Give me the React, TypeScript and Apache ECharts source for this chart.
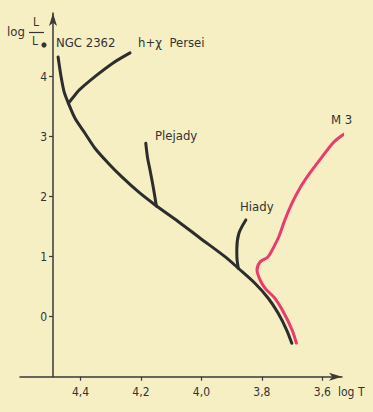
import React, { useEffect, useRef } from "react";
import * as echarts from "echarts";

// [log T, log L/Lsun]
const mainSequence: number[][] = [
  [4.474, 4.328], [4.464, 3.995], [4.454, 3.745], [4.44, 3.557], [4.418, 3.307],
  [4.385, 3.057], [4.352, 2.807], [4.308, 2.557], [4.264, 2.333], [4.209, 2.083],
  [4.153, 1.862], [4.077, 1.587], [4.005, 1.312], [3.922, 1.0], [3.878, 0.807],
  [3.823, 0.557], [3.779, 0.307], [3.746, 0.057], [3.718, -0.222], [3.701, -0.443],
];
const hChiPersei: number[][] = [
  [4.44, 3.557], [4.418, 3.695], [4.402, 3.787], [4.345, 4.028], [4.292, 4.228], [4.236, 4.395],
];
const plejady: number[][] = [
  [4.184, 2.89], [4.178, 2.645], [4.17, 2.445], [4.16, 2.178], [4.149, 1.845],
];
const hiady: number[][] = [
  [3.853, 1.612], [3.876, 1.39], [3.883, 1.112], [3.882, 0.945], [3.878, 0.807],
];
const m3: number[][] = [
  [3.516, 3.078], [3.542, 2.995], [3.565, 2.895], [3.601, 2.662], [3.641, 2.395],
  [3.674, 2.145], [3.7, 1.895], [3.724, 1.612], [3.743, 1.345], [3.76, 1.167],
  [3.78, 0.995], [3.806, 0.912], [3.816, 0.778], [3.806, 0.612], [3.79, 0.478],
  [3.758, 0.312], [3.727, 0.062], [3.7, -0.222], [3.686, -0.438],
];
const xTicks = [4.4, 4.2, 4.0, 3.8, 3.6];
const yTicks = [0, 1, 2, 3, 4];

const FONT = "'DejaVu Sans Condensed', 'Liberation Sans Narrow', 'DejaVu Sans', sans-serif";
const INK = "#333333";
const BLACK_LINE = "#2d2d2b";
const PINK = "#ea3a6e";

export default function App() {
  const ref = useRef<HTMLDivElement>(null);
  useEffect(() => {
    if (!ref.current) return;
    const chart = echarts.init(ref.current, undefined, { renderer: "svg" });
    const lineSeries = (name: string, data: number[][], color: string) => ({
      name,
      type: "line",
      data,
      smooth: 0.3,
      clip: false,
      showSymbol: false,
      symbol: "none",
      lineStyle: { color, width: 3, cap: "round", join: "round" },
      z: color === PINK ? 3 : 2,
    });
    chart.setOption({
      animation: false,
      backgroundColor: "#f6efc4",
      grid: { left: 20, right: 31, top: 13, bottom: 35.3 },
      xAxis: {
        type: "value",
        inverse: true,
        min: 3.535,
        max: 4.6,
        axisLine: {
          onZero: false,
          lineStyle: { color: "#3a3a38", width: 1.5 },
          symbol: ["none", "arrow"],
          symbolSize: [6, 13],
        },
        axisTick: { customValues: xTicks, length: 4, lineStyle: { color: "#3a3a38", width: 1.2 } },
        axisLabel: {
          customValues: xTicks,
          formatter: (v: number) => v.toFixed(1).replace(".", ","),
          color: INK,
          fontFamily: FONT,
          fontSize: 12,
          margin: 9,
        },
        splitLine: { show: false },
      },
      yAxis: {
        type: "value",
        min: -1,
        max: 5.06,
        offset: -33,
        axisLine: {
          onZero: false,
          lineStyle: { color: "#3a3a38", width: 1.5 },
          symbol: ["none", "arrow"],
          symbolSize: [6, 13],
        },
        axisTick: { customValues: yTicks, length: 4, lineStyle: { color: "#3a3a38", width: 1.2 } },
        axisLabel: {
          customValues: yTicks,
          color: INK,
          fontFamily: FONT,
          fontSize: 12,
          margin: 6,
        },
        splitLine: { show: false },
      },
      graphic: [
        { type: "text", x: 7, y: 25, style: { text: "log", fill: INK, font: `13px ${FONT}` } },
        { type: "text", x: 33, y: 16, style: { text: "L", fill: INK, font: `12px ${FONT}` } },
        { type: "line", shape: { x1: 29, y1: 32.5, x2: 44, y2: 32.5 }, style: { stroke: INK, lineWidth: 1.2 } },
        { type: "text", x: 32, y: 35, style: { text: "L", fill: INK, font: `12px ${FONT}` } },
        { type: "circle", shape: { cx: 44, cy: 45, r: 2.6 }, style: { fill: INK } },
        { type: "text", x: 56, y: 36, style: { text: "NGC 2362", fill: INK, font: `13px ${FONT}` } },
        { type: "text", x: 138, y: 36, style: { text: "h+χ  Persei", fill: INK, font: `13px ${FONT}` } },
        { type: "text", x: 155, y: 129, style: { text: "Plejady", fill: INK, font: `13px ${FONT}` } },
        { type: "text", x: 240, y: 200, style: { text: "Hiady", fill: INK, font: `13px ${FONT}` } },
        { type: "text", x: 331, y: 113, style: { text: "M 3", fill: INK, font: `13px ${FONT}` } },
        { type: "text", x: 338, y: 386, style: { text: "log T", fill: INK, font: `12px ${FONT}` } },
      ],
      series: [
        lineSeries("Main sequence", mainSequence, BLACK_LINE),
        lineSeries("h+χ Persei", hChiPersei, BLACK_LINE),
        lineSeries("Plejady", plejady, BLACK_LINE),
        lineSeries("Hiady", hiady, BLACK_LINE),
        lineSeries("M 3", m3, PINK),
      ],
    });
    return () => chart.dispose();
  }, []);
  return (
    <div
      ref={ref}
      style={{ position: "fixed", left: 0, top: 0, width: 373, height: 412 }}
    />
  );
}
